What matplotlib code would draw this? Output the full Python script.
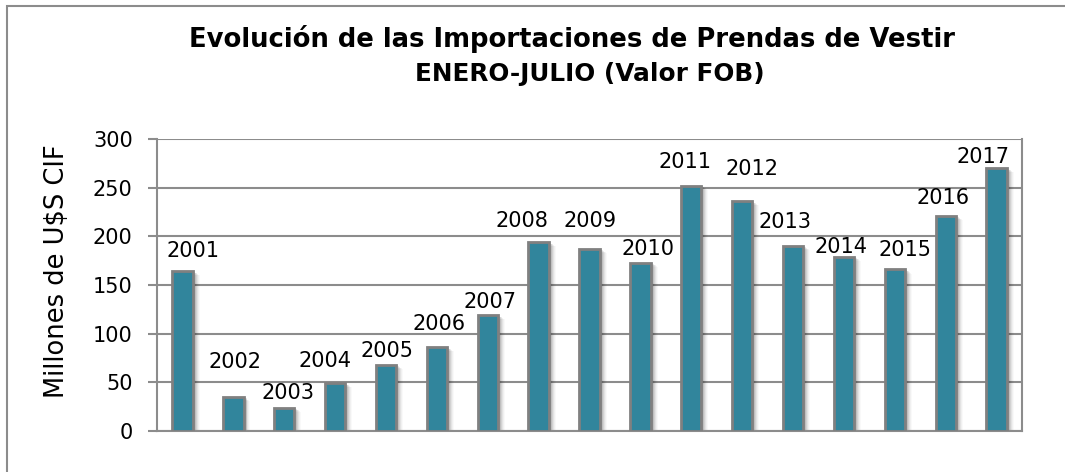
import matplotlib.pyplot as plt
from matplotlib.patches import Rectangle

# datos (millones de U$S CIF, enero-julio)
years = ['2001', '2002', '2003', '2004', '2005', '2006', '2007', '2008', '2009',
         '2010', '2011', '2012', '2013', '2014', '2015', '2016', '2017']
values = [164, 35, 24, 49, 68, 86, 119, 194, 187,
          173, 252, 236, 190, 179, 166, 221, 270]

# desplazamiento de las etiquetas respecto a la cima de la barra (px)
label_dx = [11, 2, 4, -10, 1, 2, 2, -17, 1, 8, -6, 10, -8, -3, 10, -3, -14]
label_dy = [20, 35, 15, 22, 14, 23, 13, 21, 28, 14, 24, 32, 24, 10, 19, 18, 11]

bar_color = '#31859c'
edge_color = '#808080'
grid_color = '#8c8c8c'
px = 0.72  # puntos por pixel a dpi 100

plt.rcParams['font.family'] = ['DejaVu Sans']

fig = plt.figure(figsize=(10.65, 4.72), dpi=100)
fig.patch.set_facecolor('white')

# marco exterior del grafico
fig.patches.append(Rectangle((7 / 1065, -0.1), 1.2, 1 - 6 / 472 + 0.1,
                             transform=fig.transFigure, fill=False,
                             edgecolor='#8c8c8c', linewidth=1.5))

ax = fig.add_axes([157 / 1065, 1 - 431 / 472, 865 / 1065, 292 / 472])
x = list(range(len(years)))

# sombra difusa a la derecha/abajo
for k, a in [(1, 0.12), (2, 0.09), (3, 0.07), (4, 0.05), (5, 0.035), (6, 0.025)]:
    off = k * 0.013
    ax.bar([i + 0.02 + off for i in x], [v - k * 0.7 for v in values],
           width=0.4 + off, color='black', alpha=a, linewidth=0, zorder=2)

ax.bar(x, values, width=0.4, color=bar_color, edgecolor=edge_color,
       linewidth=2, zorder=3)

for i, v in enumerate(values):
    ax.annotate(years[i], (i, v), xytext=(label_dx[i] * px, label_dy[i] * px),
                textcoords='offset points', ha='center', va='center',
                fontsize=15, color='black', zorder=4)

ax.set_xlim(-0.5, len(years) - 0.5)
ax.set_ylim(0, 300)
ax.set_yticks(range(0, 301, 50))
ax.set_xticks([])
ax.tick_params(axis='y', labelsize=15, length=6.5, width=1.5, color=grid_color, pad=11)
ax.yaxis.grid(True, color=grid_color, linewidth=1.5, zorder=0)
ax.set_axisbelow(True)
for s in ax.spines.values():
    s.set_color(grid_color)
    s.set_linewidth(1.5)
ax.spines['top'].set_visible(False)

fig.text(57 / 1065, 1 - 271 / 472, 'Millones de U$S CIF', rotation=90,
         ha='center', va='center', fontsize=18.5)

fig.text(572 / 1065, 1 - 39 / 472, 'Evolución de las Importaciones de Prendas de Vestir',
         ha='center', va='center', fontsize=18.6, fontweight='bold')
fig.text(590 / 1065, 1 - 74 / 472, 'ENERO-JULIO (Valor FOB)',
         ha='center', va='center', fontsize=17.8, fontweight='bold')

fig.savefig('out.png', dpi=100)
